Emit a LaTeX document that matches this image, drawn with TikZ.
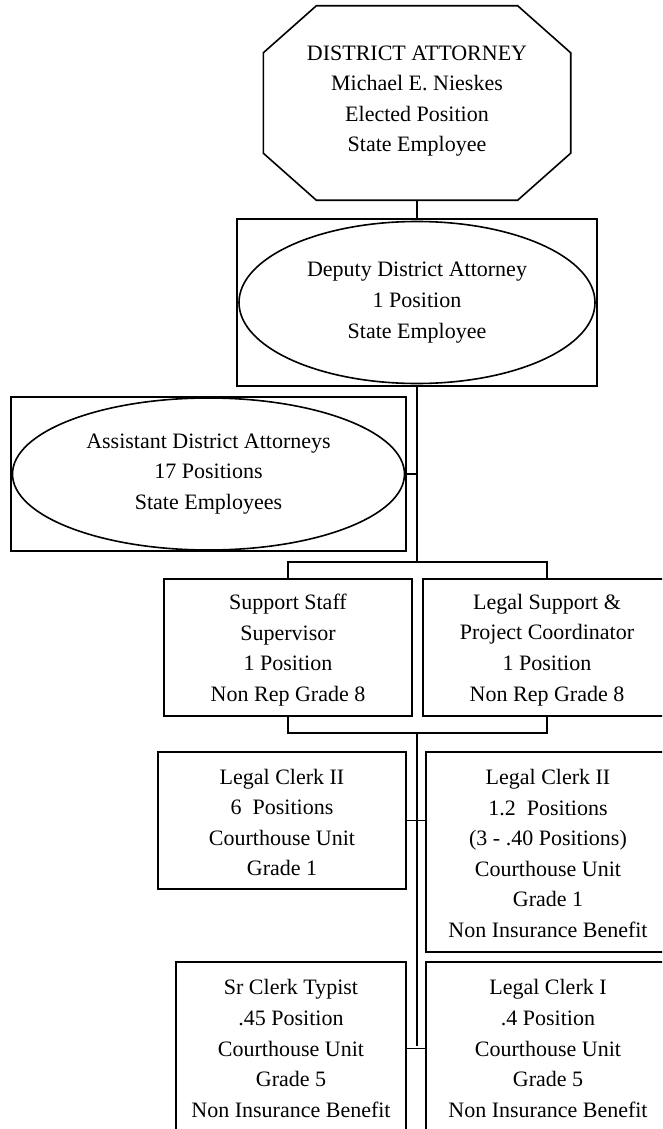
\documentclass[tikz,border=0pt]{standalone}
\usepackage{fontspec}
\setmainfont{Liberation Serif}
\usetikzlibrary{shapes.geometric,calc}

\tikzset{
  chart/.style={line width=1.6pt, line join=miter},
  txt/.style={align=center, inner sep=0pt, font=\fontsize{22}{30.6}\selectfont},
  unitbox/.style={chart, draw, rectangle, inner sep=0pt, anchor=center},
  oval/.style={chart, draw, ellipse, inner sep=0pt, txt},
  link/.style={chart, line cap=butt}
}

\begin{document}
\begin{tikzpicture}[x=1pt, y=-1pt]
\useasboundingbox (0,0) rectangle (662,1129);
\clip (0,0) rectangle (662,1129);

% District Attorney (octagon)
\node[inner sep=0pt, minimum width=307pt, minimum height=194pt] (da) at (417,103) {};
\draw[chart]
  ($(da.north west)+(53,0)$) -- ($(da.north east)+(-53,0)$) --
  ($(da.north east)+(0,47)$) -- ($(da.south east)+(0,-47)$) --
  ($(da.south east)+(-53,0)$) -- ($(da.south west)+(53,0)$) --
  ($(da.south west)+(0,-47)$) -- ($(da.north west)+(0,47)$) -- cycle;
\node[txt] (datext) at (417,101) {DISTRICT ATTORNEY\\Michael E. Nieskes\\Elected Position\\State Employee};

% Deputy District Attorney
\node[unitbox, minimum width=360pt, minimum height=167pt] (dep) at (417,302.5) {};
\node[oval, minimum width=356pt, minimum height=162pt] (depo) at (dep.center)
  {Deputy District Attorney\\1 Position\\State Employee};

% Assistant District Attorneys
\node[unitbox, minimum width=395pt, minimum height=154pt] (ada) at (208.5,474) {};
\node[oval, minimum width=392pt, minimum height=152pt] (adao) at (ada.center)
  {Assistant District Attorneys\\17 Positions\\State Employees};

% Supervisors
\node[unitbox, minimum width=248pt, minimum height=137pt] (ss) at (288,647.5) {};
\node[txt] at (288,650) {Support Staff\\Supervisor\\1 Position\\Non Rep Grade 8};
\node[unitbox, minimum width=248pt, minimum height=137pt] (ls) at (547,647.5) {};
\node[txt] at (547,650) {Legal Support \&\\Project Coordinator\\1 Position\\Non Rep Grade 8};

% Legal Clerk II positions
\node[unitbox, minimum width=248pt, minimum height=137pt] (lca) at (282,820.5) {};
\node[txt] at (282,822.5) {Legal Clerk II\\6\ \ Positions\\Courthouse Unit\\Grade 1};
\node[unitbox, minimum width=244pt, minimum height=200pt] (lcb) at (548,852) {};
\node[txt] at (548,853.5) {Legal Clerk II\\1.2\ \ Positions\\(3 - .40 Positions)\\Courthouse Unit\\Grade 1\\Non Insurance Benefit};

% Bottom row
\node[unitbox, minimum width=230pt, minimum height=173pt] (sct) at (291,1048.5) {};
\node[txt] at (291,1048.5) {Sr Clerk Typist\\.45 Position\\Courthouse Unit\\Grade 5\\Non Insurance Benefit};
\node[unitbox, minimum width=244pt, minimum height=173pt] (lc1) at (548,1048.5) {};
\node[txt] at (548,1048.5) {Legal Clerk I\\.4 Position\\Courthouse Unit\\Grade 5\\Non Insurance Benefit};

% Connectors
\coordinate (spine) at (417,562);
\coordinate (join) at (417,733);
\coordinate (lowend) at (417,1046);
\draw[link] (da.south) -- (dep.north);
\draw[link] (dep.south) -- (spine);
\draw[link] (ada.east) -- (ada.east -| spine);
\draw[link] (ss.north) |- (spine) -| (ls.north);
\draw[link] (ss.south) |- (join) -| (ls.south);
\draw[link] (join) -- (lowend);
\draw[link] (lca.east) -- (lca.east -| lcb.west);
\draw[link] (sct.east) -- (lc1.west);
\end{tikzpicture}
\end{document}
